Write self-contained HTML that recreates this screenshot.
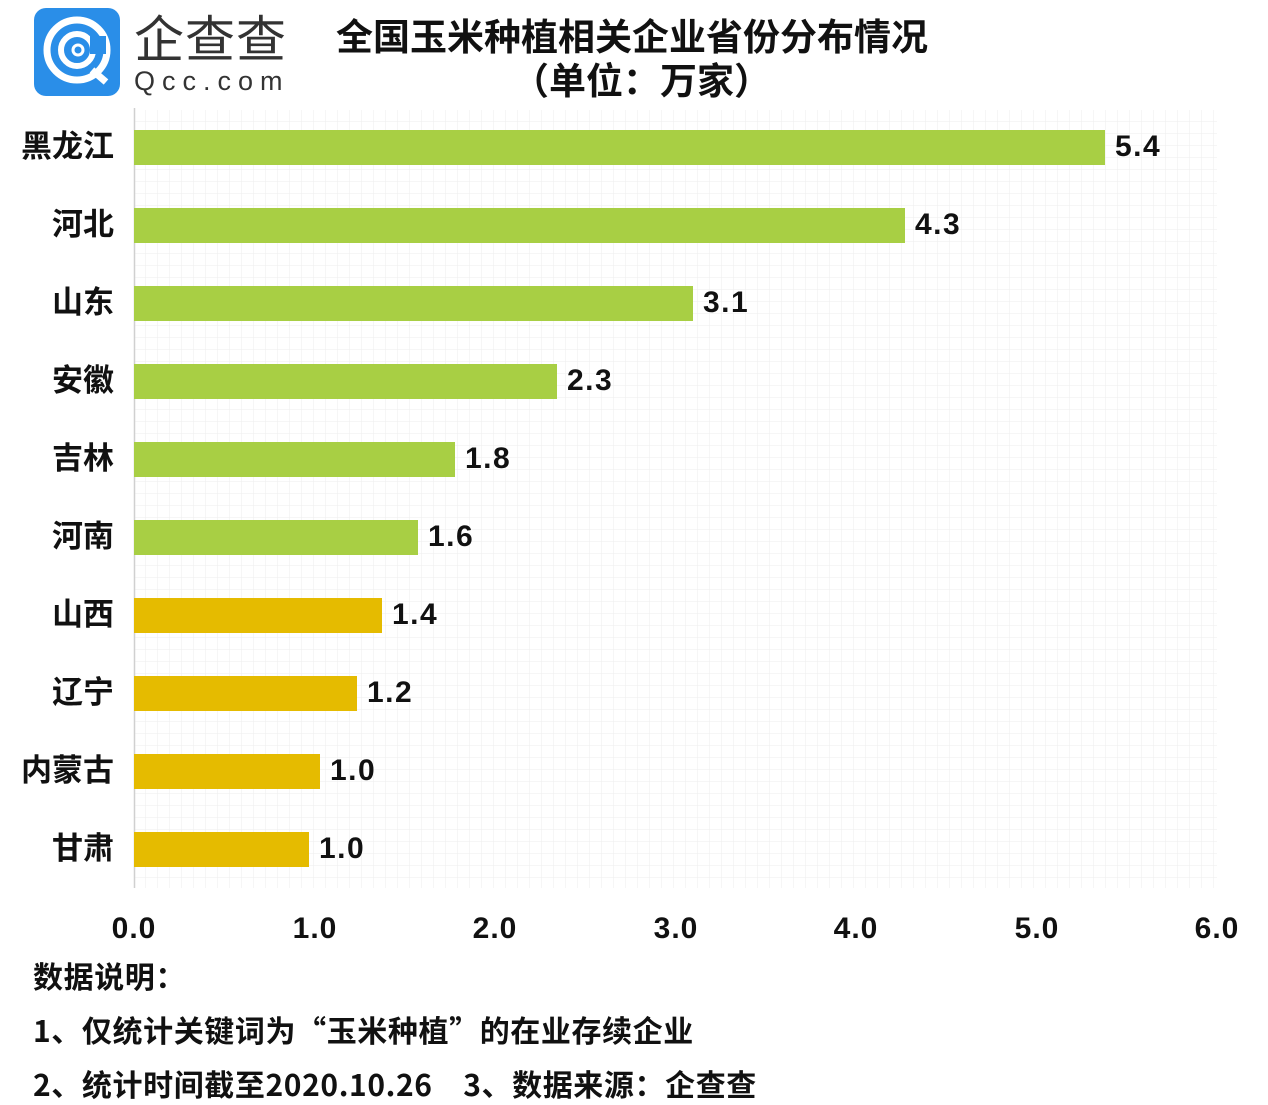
<!DOCTYPE html><html><head><meta charset="utf-8"><style>
body{margin:0;width:1268px;height:1103px;background:#fff;position:relative;overflow:hidden;font-family:"Liberation Sans","Noto Sans CJK SC",sans-serif;font-weight:bold;color:#111}
.a{position:absolute;white-space:nowrap}
.v{position:absolute;white-space:nowrap;font-size:30px;line-height:36px;letter-spacing:1.5px}
.x{position:absolute;white-space:nowrap;font-size:30px;width:80px;text-align:center;top:912px;letter-spacing:1px}
.c{font-family:"Noto Sans CJK SC",sans-serif}
.f{font-size:30px;letter-spacing:0.6px}
</style></head><body>
<svg class="a" style="left:0;top:0" width="1268" height="1103">
<defs><pattern id="g" width="12" height="12" patternUnits="userSpaceOnUse" x="134" y="110"><path d="M12 0V12M0 12H12" stroke="#eeeeee" stroke-width="1" fill="none"/></pattern></defs>
<rect x="134" y="110" width="1083" height="778" fill="url(#g)"/>
<line x1="134.5" y1="108" x2="134.5" y2="888" stroke="#d0d0d0" stroke-width="1.5"/>
<rect x="34" y="8" width="86" height="88" rx="12" fill="#2a8ee8"/>
<circle cx="77" cy="50" r="30" fill="none" stroke="#fff" stroke-width="7"/>
<circle cx="77" cy="50" r="16" fill="none" stroke="#fff" stroke-width="6"/>
<circle cx="78" cy="50" r="5" fill="#2a8ee8" stroke="#fff" stroke-width="3"/>
<rect x="90" y="36" width="16" height="18" fill="#2a8ee8"/>
<line x1="92" y1="70" x2="106" y2="82" stroke="#fff" stroke-width="7"/>
<g fill="#a8cf44">
<rect x="134" y="130" width="971" height="35"/><rect x="134" y="208" width="771" height="35"/>
<rect x="134" y="286" width="559" height="35"/><rect x="134" y="364" width="423" height="35"/>
<rect x="134" y="442" width="321" height="35"/><rect x="134" y="520" width="284" height="35"/></g>
<g fill="#e5bb00">
<rect x="134" y="598" width="248" height="35"/><rect x="134" y="676" width="223" height="35"/>
<rect x="134" y="754" width="186" height="35"/><rect x="134" y="832" width="175" height="35"/></g>
</svg>
<div class="a c" style="left:134px;top:0px;font-size:50px;font-weight:normal;color:#333;letter-spacing:1px;line-height:72px">企查查</div>
<div class="a" style="left:134px;top:66px;font-size:27px;font-weight:normal;color:#333;letter-spacing:7px">Qcc.com</div>
<div class="a c" style="left:336px;top:8px;font-size:37px;line-height:52px">全国玉米种植相关企业省份分布情况</div>
<div class="a c" style="left:512px;top:52px;font-size:37px;line-height:52px">（单位：万家）</div>
<div class="a c" style="left:0;top:0;width:114px;font-size:31px;line-height:78px;text-align:right;padding-top:105px">黑龙江<br>河北<br>山东<br>安徽<br>吉林<br>河南<br>山西<br>辽宁<br>内蒙古<br>甘肃</div>
<div class="v" style="left:1115px;top:129px">5.4</div>
<div class="v" style="left:915px;top:207px">4.3</div>
<div class="v" style="left:703px;top:285px">3.1</div>
<div class="v" style="left:567px;top:363px">2.3</div>
<div class="v" style="left:465px;top:441px">1.8</div>
<div class="v" style="left:428px;top:519px">1.6</div>
<div class="v" style="left:392px;top:597px">1.4</div>
<div class="v" style="left:367px;top:675px">1.2</div>
<div class="v" style="left:330px;top:753px">1.0</div>
<div class="v" style="left:319px;top:831px">1.0</div>
<div class="x" style="left:94px">0.0</div>
<div class="x" style="left:275px">1.0</div>
<div class="x" style="left:455px">2.0</div>
<div class="x" style="left:636px">3.0</div>
<div class="x" style="left:816px">4.0</div>
<div class="x" style="left:997px">5.0</div>
<div class="x" style="left:1177px">6.0</div>
<div class="a c f" style="left:33px;top:953px">数据说明：</div>
<div class="a c f" style="left:33px;top:1007px">1、仅统计关键词为“玉米种植”的在业存续企业</div>
<div class="a c f" style="left:33px;top:1061px">2、统计时间截至2020.10.26　3、数据来源：企查查</div>
</body></html>
